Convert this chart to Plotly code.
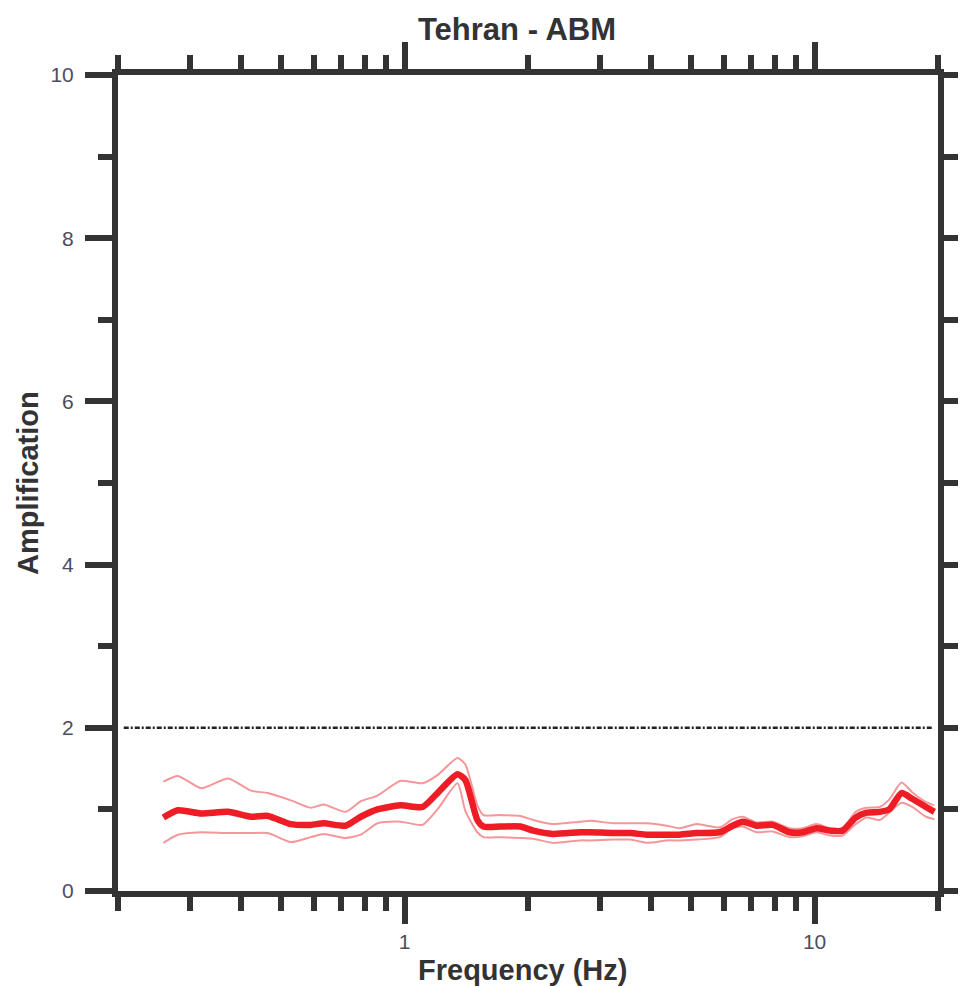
import plotly.graph_objects as go

# Frequency (Hz)
freq = [0.258, 0.28, 0.319, 0.371, 0.422, 0.464, 0.528, 0.59, 0.635, 0.718, 0.782, 0.859, 0.978,
        1.106, 1.203, 1.346, 1.407, 1.505, 1.557, 1.713, 1.916, 2.06, 2.30, 2.68, 2.84, 3.23,
        3.55, 3.90, 4.36, 4.69, 5.16, 5.87, 6.31, 6.68, 7.22, 7.90, 8.69, 9.35, 10.1, 10.9,
        11.7, 12.6, 13.4, 14.4, 15.2, 16.3, 17.3, 18.7, 19.6]

mean_amp = [0.90, 0.99, 0.95, 0.97, 0.91, 0.92, 0.82, 0.81, 0.83, 0.80, 0.91, 1.00, 1.05,
            1.03, 1.20, 1.43, 1.36, 0.87, 0.79, 0.79, 0.79, 0.74, 0.70, 0.72, 0.72, 0.71,
            0.71, 0.69, 0.69, 0.69, 0.71, 0.72, 0.80, 0.85, 0.80, 0.81, 0.72, 0.72, 0.77, 0.74,
            0.74, 0.90, 0.96, 0.97, 1.00, 1.20, 1.13, 1.03, 0.97]

upper_amp = [1.34, 1.41, 1.26, 1.38, 1.23, 1.20, 1.11, 1.02, 1.06, 0.97, 1.10, 1.17, 1.35,
             1.32, 1.42, 1.63, 1.55, 1.05, 0.93, 0.93, 0.92, 0.87, 0.82, 0.85, 0.86, 0.83,
             0.83, 0.83, 0.80, 0.77, 0.82, 0.78, 0.88, 0.91, 0.84, 0.85, 0.77, 0.77, 0.82, 0.77,
             0.77, 0.97, 1.02, 1.03, 1.12, 1.33, 1.21, 1.09, 1.05]

lower_amp = [0.59, 0.69, 0.72, 0.71, 0.71, 0.71, 0.60, 0.66, 0.70, 0.65, 0.69, 0.83, 0.85,
             0.81, 1.00, 1.32, 0.98, 0.72, 0.66, 0.66, 0.65, 0.64, 0.59, 0.62, 0.62, 0.63,
             0.63, 0.59, 0.62, 0.62, 0.63, 0.66, 0.77, 0.79, 0.72, 0.73, 0.66, 0.67, 0.72, 0.68,
             0.68, 0.82, 0.90, 0.87, 0.96, 1.08, 1.03, 0.91, 0.88]

threshold = 2

x_major = [1, 10]
x_major_text = ["1", "10"]
x_minor = [0.2, 0.3, 0.4, 0.5, 0.6, 0.7, 0.8, 0.9, 2, 3, 4, 5, 6, 7, 8, 9, 20]
y_major = [0, 2, 4, 6, 8, 10]
y_minor = [1, 3, 5, 7, 9]

AX = "#333333"
LBL = "#4d4d5c"
FONT = "Liberation Sans, Arial"

# figure is drawn inside the page body (8 px default margin), so size it to fit the window
W, H = 958, 979
PL, PR, PT, PB = 110, 930, 67, 883  # plot-area edges in figure pixels
PW, PH = PR - PL, PB - PT

fig = go.Figure()
for vals in (upper_amp, lower_amp):
    fig.add_trace(go.Scatter(x=freq, y=vals, mode="lines",
                             line=dict(color="rgba(238,80,85,0.6)", width=2, shape="spline",
                                       smoothing=0.6),
                             showlegend=False, hoverinfo="skip"))
fig.add_trace(go.Scatter(x=freq, y=mean_amp, mode="lines",
                         line=dict(color="#ee1c25", width=6.5, shape="spline", smoothing=0.6),
                         showlegend=False))

fig.add_shape(type="line", xref="paper", yref="y", x0=0.007, x1=0.993, y0=threshold, y1=threshold,
              line=dict(color="#222222", width=2.5, dash="5px,2px,2px,2px"))

axis_common = dict(showline=True, linewidth=6, linecolor=AX, mirror="ticks",
                   ticks="outside", ticklen=27, tickwidth=6, tickcolor=AX,
                   showgrid=False, zeroline=False, automargin=False,
                   tickfont=dict(family=FONT, size=21, color=LBL))

fig.update_xaxes(type="log", range=[-0.69897, 1.30103], tickmode="array",
                 tickvals=x_major, ticktext=x_major_text,
                 minor=dict(tickvals=x_minor, ticks="outside", ticklen=14, tickwidth=6,
                            tickcolor=AX, showgrid=False),
                 **axis_common)
fig.update_yaxes(range=[0, 10], tickmode="array", tickvals=y_major, ticklabelstandoff=7,
                 minor=dict(tickvals=y_minor, ticks="outside", ticklen=14, tickwidth=6,
                            tickcolor=AX, showgrid=False),
                 **axis_common)

fig.add_annotation(text="<b>Frequency (Hz)</b>", xref="paper", yref="paper",
                   x=(514 - PL) / PW, y=-(962 - PB) / PH,
                   xanchor="center", yanchor="middle", showarrow=False,
                   font=dict(family=FONT, size=29, color="#333333"))
fig.add_annotation(text="<b>Amplification</b>", xref="paper", yref="paper",
                   x=-(PL - 20) / PW, y=(PB - 475) / PH, textangle=-90,
                   xanchor="center", yanchor="middle", showarrow=False,
                   font=dict(family=FONT, size=29, color="#333333"))

fig.update_layout(
    width=W, height=H,
    margin=dict(l=PL, r=W - PR, t=PT, b=H - PB, autoexpand=False),
    paper_bgcolor="white", plot_bgcolor="white",
    title=dict(text="<b>Tehran - ABM</b>", x=509 / W, xanchor="center", xref="container",
               y=1 - 21 / H, yanchor="middle", yref="container", automargin=False,
               font=dict(family=FONT, size=31, color="#333333")),
)

fig.write_html("out.html")
